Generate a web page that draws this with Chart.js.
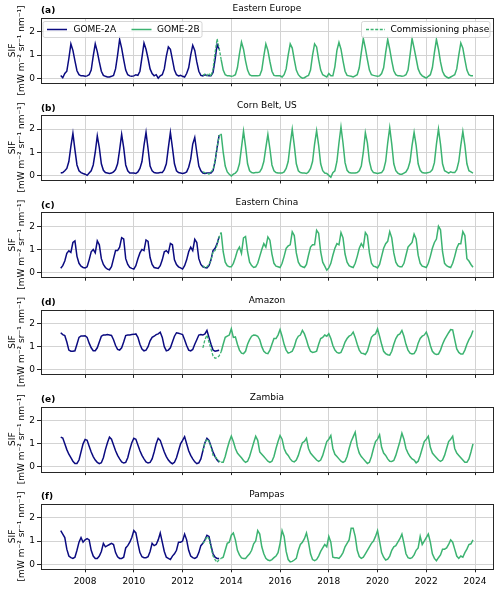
<!DOCTYPE html>
<html>
<head>
<meta charset="utf-8">
<script src="https://cdn.jsdelivr.net/npm/chart.js@4/dist/chart.umd.min.js"></script>
<style>
html,body{margin:0;padding:0;background:#fff;}
#wrap{position:relative;width:500px;height:589px;overflow:hidden;}
#wrap canvas{position:absolute;left:0;top:0;}
</style>
</head>
<body>
<div id="wrap"></div>
<script>
// ---------------- DATA ----------------
const panelTitles = ['Eastern Europe', 'Corn Belt, US', 'Eastern China', 'Amazon', 'Zambia', 'Pampas'];
const panelLabels = ['(a)', '(b)', '(c)', '(d)', '(e)', '(f)'];
const xTickValues = [2008, 2010, 2012, 2014, 2016, 2018, 2020, 2022, 2024];
const yTickValues = [0, 1, 2];
const seriesNames = ['GOME-2A', 'GOME-2B', 'Commissioning phase'];
const firstYear = 2007;
// month offsets (from Jan 2007) of the first value of each series
const startGome2A = 0;   // Jan 2007
const startComm = 70;    // Nov 2012
const startGome2B = 79;  // Aug 2013

// Eastern Europe
const eeA = [
  0.12,0.02,0.2,0.3,0.85,1.48,1.2,0.75,0.32,0.15,0.1,0.1,
  0.08,0.1,0.15,0.35,0.95,1.48,1.15,0.7,0.3,0.12,0.08,0.05,
  0.05,0.08,0.12,0.4,1.0,1.67,1.3,0.8,0.35,0.15,0.1,0.08,
  0.1,0.15,0.12,0.3,0.9,1.52,1.25,0.85,0.4,0.2,0.1,0.15,
  0.0,0.1,0.15,0.4,0.95,1.35,1.25,0.8,0.35,0.15,0.1,0.12,
  0.08,0.05,0.2,0.45,1.0,1.42,1.2,0.7,0.3,0.12,0.1,0.15,
  0.12,0.1,0.1,0.25,0.8,1.45,1.25];
const eeComm = [0.12,0.18,0.1,0.22,0.08,0.4,1.1,1.7,1.3,0.8];
const eeB = [
  0.8,0.35,0.15,0.1,0.1,
  0.08,0.1,0.15,0.45,1.05,1.56,1.25,0.75,0.35,0.15,0.1,0.1,
  0.1,0.1,0.12,0.35,0.95,1.48,1.2,0.72,0.3,0.12,0.1,0.1,
  0.1,0.05,0.15,0.4,1.0,1.48,1.3,0.8,0.35,0.15,0.05,0.0,
  0.02,0.08,0.12,0.35,1.0,1.48,1.35,0.8,0.35,0.15,0.1,0.05,
  0.2,0.1,0.1,0.5,1.2,1.55,1.25,0.75,0.3,0.12,0.1,0.08,
  0.05,0.1,0.15,0.45,1.1,1.71,1.3,0.8,0.35,0.15,0.12,0.1,
  0.08,0.1,0.2,0.45,1.1,1.67,1.25,0.75,0.32,0.15,0.1,0.1,
  0.08,0.1,0.15,0.35,1.0,1.71,1.3,0.85,0.4,0.2,0.1,0.05,
  0.0,0.08,0.15,0.45,1.1,1.67,1.25,0.7,0.3,0.12,0.05,0.0,
  0.05,0.1,0.15,0.4,1.0,1.52,1.3,0.8,0.35,0.15,0.1,0.1];

// Corn Belt, US
const cbA = [
  0.1,0.12,0.2,0.3,0.6,1.25,1.81,1.1,0.45,0.2,0.12,0.08,
  0.05,0.0,0.1,0.2,0.45,1.0,1.71,1.2,0.5,0.22,0.12,0.1,
  0.08,0.1,0.15,0.25,0.5,1.1,1.77,1.2,0.45,0.2,0.1,0.1,
  0.1,0.08,0.15,0.3,0.6,1.3,1.86,1.15,0.4,0.2,0.12,0.1,
  0.1,0.12,0.12,0.25,0.5,1.2,1.86,1.2,0.5,0.2,0.12,0.1,
  0.08,0.1,0.15,0.35,0.7,1.35,1.64,1.0,0.4,0.2,0.1,0.08,
  0.1,0.1,0.1,0.2,0.6,1.2,1.74];
const cbComm = [0.15,0.12,0.1,0.05,0.15,0.25,0.6,1.2,1.7,1.8];
const cbB = [
  1.8,1.0,0.4,0.15,0.05,
  -0.03,0.05,0.1,0.2,0.5,1.2,1.91,1.25,0.5,0.2,0.12,0.1,
  0.12,0.12,0.15,0.3,0.6,1.2,1.77,1.15,0.45,0.2,0.12,0.1,
  0.1,0.1,0.15,0.3,0.6,1.35,1.99,1.3,0.5,0.2,0.12,0.1,
  0.1,0.08,0.15,0.3,0.6,1.35,1.93,1.3,0.5,0.2,0.1,0.08,
  0.0,-0.08,0.12,0.2,0.6,1.4,2.09,1.4,0.55,0.22,0.12,0.1,
  0.1,0.1,0.12,0.2,0.4,1.0,1.84,1.4,0.6,0.25,0.12,0.1,
  0.08,0.1,0.12,0.25,0.6,1.4,2.06,1.35,0.5,0.2,0.1,0.05,
  0.05,0.1,0.15,0.3,0.6,1.3,1.86,1.3,0.5,0.22,0.12,0.1,
  0.1,0.12,0.15,0.25,0.55,1.35,2.0,1.35,0.5,0.2,0.15,0.1,
  0.15,0.12,0.12,0.25,0.6,1.3,1.9,1.3,0.5,0.2,0.15,0.1];

// Eastern China
const ecA = [
  0.19,0.3,0.5,0.83,0.94,0.87,1.3,1.37,0.7,0.4,0.28,0.22,
  0.2,0.25,0.55,0.9,1.0,0.85,1.37,1.2,0.6,0.35,0.22,0.15,
  0.12,0.25,0.6,0.95,0.95,1.1,1.51,1.45,0.6,0.35,0.22,0.18,
  0.15,0.3,0.6,0.85,1.0,0.95,1.41,1.35,0.65,0.35,0.22,0.2,
  0.18,0.3,0.55,0.9,0.95,0.85,1.26,1.2,0.55,0.35,0.25,0.2,
  0.15,0.3,0.55,0.9,1.1,0.95,1.44,1.3,0.6,0.35,0.25,0.22,
  0.2,0.3,0.55,0.95,1.05,1.25,1.55];
const ecComm = [0.3,0.2,0.25,0.35,0.55,0.9,0.95,1.2,1.55,1.73];
const ecB = [
  1.73,0.9,0.45,0.3,0.25,
  0.25,0.4,0.65,0.95,1.1,0.83,1.5,1.56,0.9,0.45,0.3,0.22,
  0.25,0.4,0.7,1.0,1.25,1.1,1.54,1.4,0.8,0.4,0.28,0.25,
  0.22,0.4,0.7,1.05,1.15,1.2,1.76,1.6,0.85,0.45,0.3,0.25,
  0.22,0.35,0.75,1.1,1.2,1.2,1.83,1.7,0.9,0.45,0.28,0.1,
  0.2,0.4,0.75,1.05,1.25,1.2,1.73,1.5,0.8,0.45,0.3,0.25,
  0.22,0.4,0.7,1.05,1.25,1.1,1.73,1.6,0.85,0.4,0.28,0.25,
  0.2,0.35,0.7,1.05,1.25,1.35,1.77,1.5,0.85,0.45,0.3,0.25,
  0.25,0.4,0.75,1.1,1.2,1.3,1.66,1.45,0.75,0.4,0.28,0.25,
  0.22,0.4,0.7,1.05,1.3,1.45,2.0,1.85,0.9,0.4,0.3,0.25,
  0.22,0.4,0.7,1.05,1.25,1.25,1.77,1.6,0.6,0.5,0.35,0.23];

// Amazon
const amA = [
  1.6,1.52,1.48,1.2,0.85,0.8,0.8,0.82,1.1,1.4,1.46,1.46,
  1.47,1.4,1.15,0.95,0.82,0.82,0.95,1.2,1.45,1.5,1.5,1.52,
  1.5,1.48,1.3,1.05,0.88,0.85,0.95,1.2,1.48,1.5,1.5,1.52,
  1.53,1.55,1.4,1.1,0.9,0.82,0.85,1.0,1.25,1.4,1.45,1.52,
  1.55,1.62,1.4,1.0,0.82,0.85,0.95,1.2,1.45,1.6,1.58,1.55,
  1.52,1.3,1.05,0.85,0.82,0.88,1.1,1.3,1.5,1.52,1.5,1.55,
  1.7,1.4,1.1,0.85,0.8,0.82,0.84];
const amComm = [0.95,1.3,1.5,1.2,0.9,0.6,0.5,0.52,0.6,0.78];
const amB = [
  0.78,1.1,1.4,1.45,1.5,
  1.77,1.4,1.42,1.1,0.85,0.72,0.7,0.8,1.1,1.3,1.45,1.5,
  1.49,1.45,1.3,1.0,0.8,0.72,0.7,0.85,1.1,1.35,1.35,1.5,
  1.74,1.45,1.1,0.85,0.72,0.75,0.8,1.0,1.3,1.45,1.5,1.7,
  1.55,1.3,1.0,0.8,0.75,0.77,0.8,1.1,1.35,1.4,1.5,1.45,
  1.56,1.35,1.05,0.85,0.75,0.72,0.75,0.95,1.2,1.35,1.45,1.5,
  1.63,1.4,1.1,0.85,0.72,0.7,0.66,0.8,1.1,1.4,1.5,1.55,
  1.77,1.45,1.1,0.8,0.7,0.65,0.63,0.8,1.1,1.35,1.5,1.55,
  1.7,1.45,1.1,0.85,0.72,0.68,0.7,0.85,1.15,1.35,1.45,1.5,
  1.63,1.4,1.05,0.8,0.7,0.66,0.68,0.85,1.1,1.3,1.45,1.6,
  1.74,1.72,1.3,0.9,0.75,0.68,0.68,0.85,1.1,1.3,1.45,1.7];

// Zambia
const zaA = [
  1.29,1.25,1.0,0.75,0.55,0.4,0.25,0.15,0.15,0.3,0.65,1.0,
  1.19,1.15,0.9,0.65,0.45,0.3,0.2,0.14,0.18,0.4,0.75,1.05,
  1.29,1.2,0.95,0.7,0.5,0.35,0.22,0.17,0.2,0.4,0.75,1.05,
  1.24,1.2,0.95,0.7,0.5,0.35,0.22,0.17,0.2,0.35,0.65,1.0,
  1.24,1.15,0.9,0.65,0.45,0.3,0.2,0.14,0.2,0.4,0.7,1.0,
  1.15,1.31,1.0,0.7,0.5,0.35,0.22,0.14,0.18,0.35,0.7,1.05,
  1.24,1.15,0.9,0.65,0.45,0.3,0.21];
const zaComm = [0.7,1.05,1.2,1.1,0.85,0.5,0.45,0.35,0.25,0.2];
const zaB = [
  0.2,0.2,0.45,0.8,1.1,
  1.33,1.1,0.8,0.6,0.5,0.4,0.28,0.2,0.25,0.45,0.75,1.05,
  1.33,1.15,0.65,0.55,0.45,0.35,0.25,0.2,0.25,0.45,0.8,1.1,
  1.36,1.2,0.8,0.6,0.5,0.35,0.25,0.22,0.3,0.5,0.8,1.05,
  1.1,1.24,0.8,0.6,0.5,0.4,0.3,0.24,0.3,0.5,0.8,1.1,
  1.2,1.36,0.8,0.55,0.45,0.35,0.25,0.2,0.25,0.45,0.8,1.1,
  1.3,1.5,0.9,0.6,0.45,0.35,0.25,0.15,0.2,0.45,0.8,1.1,
  1.2,1.39,0.85,0.6,0.5,0.35,0.25,0.24,0.28,0.5,0.8,1.1,
  1.46,1.2,0.8,0.6,0.45,0.35,0.3,0.18,0.25,0.5,0.8,1.1,
  1.2,1.33,0.85,0.6,0.5,0.4,0.3,0.24,0.3,0.5,0.8,1.1,
  1.2,1.33,0.8,0.6,0.5,0.4,0.3,0.2,0.2,0.35,0.65,1.0];

// Pampas
const paA = [
  1.45,1.3,1.15,0.65,0.35,0.28,0.25,0.3,0.6,0.95,1.15,0.95,
  1.05,1.1,1.05,0.6,0.35,0.25,0.25,0.35,0.55,0.9,0.75,0.8,
  0.85,0.9,0.85,0.5,0.32,0.25,0.25,0.3,0.7,0.8,0.95,1.15,
  1.45,1.35,0.9,0.5,0.32,0.28,0.28,0.32,0.55,0.9,0.8,0.85,
  1.05,1.35,0.95,0.55,0.3,0.25,0.2,0.35,0.45,0.6,0.95,0.95,
  1.0,1.3,1.05,0.6,0.35,0.28,0.25,0.3,0.5,0.8,0.9,1.05,
  1.25,1.2,0.8,0.45,0.3,0.25,0.25];
const paComm = [0.9,1.0,1.2,1.1,0.7,0.35,0.2,0.08,0.2,0.25];
const paB = [
  0.25,0.3,0.6,0.9,0.95,
  1.25,1.35,1.05,0.6,0.4,0.27,0.25,0.25,0.35,0.45,0.6,0.88,
  1.0,1.45,1.3,0.75,0.45,0.25,0.18,0.15,0.2,0.28,0.35,0.5,
  0.9,1.45,1.2,0.55,0.2,0.1,0.12,0.18,0.25,0.6,0.85,0.95,
  1.1,1.35,0.95,0.45,0.2,0.15,0.2,0.35,0.55,0.7,0.85,0.75,
  1.2,0.95,0.3,0.28,0.28,0.25,0.35,0.5,0.75,0.9,1.05,1.55,
  1.55,1.2,0.6,0.33,0.25,0.3,0.45,0.6,0.75,0.9,1.0,1.2,
  1.45,1.0,0.5,0.3,0.18,0.22,0.35,0.6,0.75,0.8,0.95,1.1,
  1.3,0.9,0.45,0.28,0.25,0.28,0.4,0.6,0.7,1.2,0.85,1.0,
  1.15,1.3,0.95,0.45,0.25,0.15,0.28,0.4,0.65,0.65,0.7,0.85,
  1.05,0.95,0.65,0.35,0.25,0.35,0.3,0.5,0.65,0.85,0.88,1.05];

const panelSeries = [
  [eeA, eeB, eeComm],
  [cbA, cbB, cbComm],
  [ecA, ecB, ecComm],
  [amA, amB, amComm],
  [zaA, zaB, zaComm],
  [paA, paB, paComm]
];

// ---------------- STYLE / LAYOUT ----------------
const W = 500, H = 589;
const BLUE = '#0b0b80';
const GREEN = '#3cb371';
const FONT = '"DejaVu Sans", sans-serif';
const panelTop0 = 18, panelStep = 97.2, panelH = 64.8;
const plotLeft = 40.5, plotRight = 493.3;

function toPoints(values, startMonth) {
  return values.map((v, k) => ({ x: firstYear + (startMonth + k) / 12, y: v }));
}

const decorPlugin = {
  id: 'decor',
  afterDraw(chart, args, opts) {
    const ctx = chart.ctx;
    const a = chart.chartArea;
    ctx.save();
    // frame
    ctx.strokeStyle = '#262626';
    ctx.lineWidth = 1;
    ctx.strokeRect(Math.round(a.left) + 0.5, Math.round(a.top) + 0.5,
                   Math.round(a.right) - Math.round(a.left), Math.round(a.bottom) - Math.round(a.top));
    // title
    ctx.fillStyle = '#000';
    ctx.font = '9px ' + FONT;
    ctx.textAlign = 'center';
    ctx.textBaseline = 'middle';
    ctx.fillText(opts.title, (a.left + a.right) / 2, a.top - 9.3);
    ctx.font = 'bold 9px ' + FONT;
    ctx.textAlign = 'left';
    ctx.fillText(opts.label, a.left + 0.5, a.top - 7);
    // y-axis label (two lines, rotated)
    const yc = (a.top + a.bottom) / 2;
    ctx.font = '9px ' + FONT;
    ctx.textAlign = 'center';
    ctx.save();
    ctx.translate(12.5, yc);
    ctx.rotate(-Math.PI / 2);
    ctx.fillText('SIF', 0, 0);
    ctx.restore();
    ctx.save();
    ctx.translate(22, yc);
    ctx.rotate(-Math.PI / 2);
    ctx.fillText('[mW m\u207B\u00B2 sr\u207B\u00B9 nm\u207B\u00B9]', 0, 0);
    ctx.restore();
    // legends (first panel only)
    if (opts.legend) {
      ctx.font = '9px ' + FONT;
      ctx.textAlign = 'left';
      ctx.textBaseline = 'middle';
      const box = (x, y, w, h) => {
        ctx.beginPath();
        ctx.roundRect(x, y, w, h, 2);
        ctx.fillStyle = 'rgba(255,255,255,0.8)';
        ctx.fill();
        ctx.strokeStyle = '#cccccc';
        ctx.lineWidth = 0.8;
        ctx.stroke();
      };
      const ly = a.top + 11.5;
      box(a.left + 2.5, a.top + 3.5, 159, 16);
      ctx.lineWidth = 1.5;
      ctx.setLineDash([]);
      ctx.strokeStyle = BLUE;
      ctx.beginPath(); ctx.moveTo(47, ly); ctx.lineTo(67, ly); ctx.stroke();
      ctx.fillStyle = '#000';
      ctx.fillText(seriesNames[0], 73.5, ly);
      ctx.strokeStyle = GREEN;
      ctx.beginPath(); ctx.moveTo(131.5, ly); ctx.lineTo(151.5, ly); ctx.stroke();
      ctx.fillText(seriesNames[1], 157, ly);
      box(361.5, a.top + 3.5, 128.5, 16);
      ctx.strokeStyle = GREEN;
      ctx.lineWidth = 1.3;
      ctx.setLineDash([3, 1.6]);
      ctx.beginPath(); ctx.moveTo(366, ly); ctx.lineTo(385, ly); ctx.stroke();
      ctx.setLineDash([]);
      ctx.fillStyle = '#000';
      ctx.fillText(seriesNames[2], 390.5, ly);
    }
    ctx.restore();
  }
};

const wrap = document.getElementById('wrap');
panelSeries.forEach((ser, p) => {
  const cv = document.createElement('canvas');
  cv.width = W; cv.height = H;
  cv.style.width = W + 'px'; cv.style.height = H + 'px';
  wrap.appendChild(cv);
  const isLast = p === panelSeries.length - 1;
  const top = panelTop0 + p * panelStep;
  const bottom = top + panelH;
  const xAxisH = isLast ? 20 : 4;
  new Chart(cv.getContext('2d'), {
    type: 'line',
    data: {
      datasets: [
        { label: seriesNames[2], data: toPoints(ser[2], startComm), borderColor: GREEN,
          borderWidth: 1.3, borderDash: [3, 1.6], pointRadius: 0, tension: 0, fill: false },
        { label: seriesNames[0], data: toPoints(ser[0], startGome2A), borderColor: BLUE,
          borderWidth: 1.5, pointRadius: 0, tension: 0, fill: false },
        { label: seriesNames[1], data: toPoints(ser[1], startGome2B), borderColor: GREEN,
          borderWidth: 1.5, pointRadius: 0, tension: 0, fill: false }
      ]
    },
    options: {
      responsive: false,
      animation: false,
      devicePixelRatio: 1,
      events: [],
      layout: { padding: { top: top, left: 0, right: W - plotRight, bottom: H - bottom - xAxisH } },
      plugins: {
        legend: { display: false },
        title: { display: false },
        tooltip: { enabled: false },
        decor: { title: panelTitles[p], label: panelLabels[p], legend: p === 0 }
      },
      scales: {
        x: {
          type: 'linear', min: 2006.17, max: 2024.75,
          afterBuildTicks: s => { s.ticks = xTickValues.map(v => ({ value: v })); },
          afterFit: s => { s.height = xAxisH; },
          grid: { color: '#d3d3d3', lineWidth: 1, drawTicks: true, tickLength: 3.5, tickColor: '#262626' },
          border: { display: false },
          ticks: { display: isLast, autoSkip: false, maxRotation: 0, padding: 4, color: '#000',
                   font: { family: FONT, size: 9 }, callback: v => String(v) }
        },
        y: {
          min: -0.2, max: 2.6,
          afterBuildTicks: s => { s.ticks = yTickValues.map(v => ({ value: v })); },
          afterFit: s => { s.width = plotLeft; },
          grid: { color: '#d3d3d3', lineWidth: 1, drawTicks: true, tickLength: 3.5, tickColor: '#262626' },
          border: { display: false },
          ticks: { padding: 2, color: '#000', font: { family: FONT, size: 9 }, callback: v => String(v) }
        }
      }
    },
    plugins: [decorPlugin]
  });
});
</script>
</body>
</html>
